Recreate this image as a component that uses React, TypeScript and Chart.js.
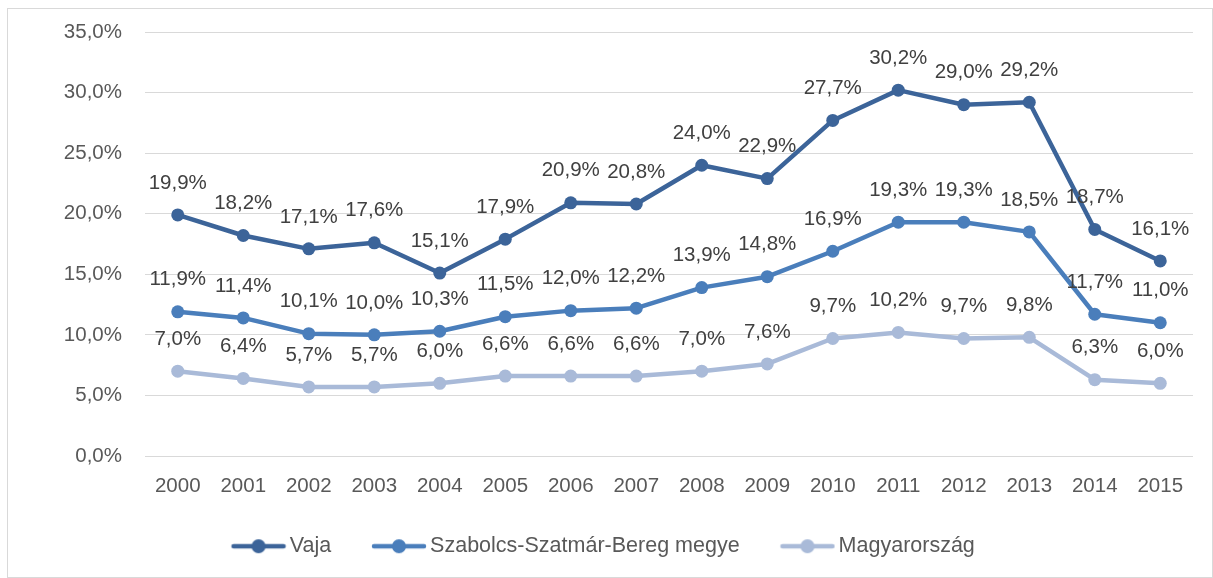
import React, { useEffect, useRef } from 'react';
import { Chart, registerables } from 'chart.js';

Chart.register(...registerables);

const years = ['2000', '2001', '2002', '2003', '2004', '2005', '2006', '2007', '2008', '2009', '2010', '2011', '2012', '2013', '2014', '2015'];
const vaja = [19.9, 18.2, 17.1, 17.6, 15.1, 17.9, 20.9, 20.8, 24.0, 22.9, 27.7, 30.2, 29.0, 29.2, 18.7, 16.1];
const szabolcs = [11.9, 11.4, 10.1, 10.0, 10.3, 11.5, 12.0, 12.2, 13.9, 14.8, 16.9, 19.3, 19.3, 18.5, 11.7, 11.0];
const magyarorszag = [7.0, 6.4, 5.7, 5.7, 6.0, 6.6, 6.6, 6.6, 7.0, 7.6, 9.7, 10.2, 9.7, 9.8, 6.3, 6.0];
const seriesNames = ['Vaja', 'Szabolcs-Szatmár-Bereg megye', 'Magyarország'];
const seriesColors = ['#3C6499', '#4A7EBB', '#A9BAD8'];
const yMin = 0;
const yMax = 35;
const yStep = 5;

const FONT = "'Liberation Sans', Arial, sans-serif";
const FONT_SIZE = 20.5;
const LEGEND_FONT_SIZE = 21.5;

const fmt = (v: number) => v.toFixed(1).replace('.', ',') + '%';

function makeMarker(color: string): HTMLCanvasElement {
  const c = document.createElement('canvas');
  c.width = 68;
  c.height = 16;
  const ctx = c.getContext('2d')!;
  ctx.strokeStyle = color;
  ctx.lineWidth = 4.5;
  ctx.lineCap = 'round';
  ctx.beginPath();
  ctx.moveTo(15, 8);
  ctx.lineTo(65, 8);
  ctx.stroke();
  ctx.fillStyle = color;
  ctx.beginPath();
  ctx.arc(40, 8, 7, 0, Math.PI * 2);
  ctx.fill();
  return c;
}

const dataLabelPlugin = {
  id: 'dataLabels',
  afterDatasetsDraw(chart: any) {
    const ctx = chart.ctx;
    ctx.save();
    ctx.font = `${FONT_SIZE}px ${FONT}`;
    ctx.fillStyle = '#404040';
    ctx.textAlign = 'center';
    ctx.textBaseline = 'middle';
    chart.data.datasets.forEach((ds: any, i: number) => {
      const meta = chart.getDatasetMeta(i);
      meta.data.forEach((pt: any, j: number) => {
        ctx.fillText(fmt(ds.data[j]), pt.x, pt.y - 32);
      });
    });
    ctx.restore();
  },
};

export default function App() {
  const ref = useRef<HTMLCanvasElement>(null);

  useEffect(() => {
    if (!ref.current) return;
    const markers = seriesColors.map(makeMarker);
    const allSeries = [vaja, szabolcs, magyarorszag];
    const chart = new Chart(ref.current, {
      type: 'line',
      data: {
        labels: years,
        datasets: allSeries.map((d, i) => ({
          label: seriesNames[i],
          data: d,
          borderColor: seriesColors[i],
          backgroundColor: seriesColors[i],
          pointBackgroundColor: seriesColors[i],
          pointBorderColor: seriesColors[i],
          borderWidth: 4.5,
          pointRadius: 6.5,
          pointBorderWidth: 0,
          borderJoinStyle: 'round',
          borderCapStyle: 'round',
          tension: 0,
          fill: false,
        })),
      },
      options: {
        responsive: false,
        animation: false,
        layout: { padding: { left: 0, right: 19, top: 23, bottom: 10 } },
        scales: {
          x: {
            offset: true,
            grid: { display: false, drawTicks: false },
            border: { display: false },
            ticks: {
              color: '#595959',
              font: { family: FONT, size: FONT_SIZE },
              padding: 18,
              maxRotation: 0,
              autoSkip: false,
            },
            afterFit: (scale: any) => {
              scale.height = 44;
            },
          },
          y: {
            min: yMin,
            max: yMax,
            grid: { color: '#D9D9D9', lineWidth: 1, drawTicks: true, tickLength: 23, tickColor: 'rgba(0,0,0,0)' },
            border: { display: false },
            ticks: {
              stepSize: yStep,
              color: '#595959',
              font: { family: FONT, size: FONT_SIZE },
              padding: 0,
              callback: (v: any) => fmt(Number(v)),
            },
            afterFit: (scale: any) => {
              scale.width = 137;
            },
          },
        },
        plugins: {
          tooltip: { enabled: false },
          legend: {
            position: 'bottom',
            labels: {
              usePointStyle: true,
              pointStyleWidth: 52.75,
              padding: 35.5,
              color: '#595959',
              font: { family: FONT, size: LEGEND_FONT_SIZE },
              generateLabels: (ch: any) => {
                const items = (Chart.defaults.plugins.legend.labels as any).generateLabels(ch);
                return items.map((it: any, i: number) => ({ ...it, pointStyle: markers[i] }));
              },
            },
          },
        },
      },
      plugins: [dataLabelPlugin],
    } as any);
    return () => chart.destroy();
  }, []);

  return (
    <div
      style={{
        position: 'absolute',
        left: 7,
        top: 8,
        width: 1206,
        height: 570,
        boxSizing: 'border-box',
        border: '1px solid #D9D9D9',
        background: '#fff',
      }}
    >
      <canvas ref={ref} width={1204} height={568} style={{ display: 'block' }} />
    </div>
  );
}
